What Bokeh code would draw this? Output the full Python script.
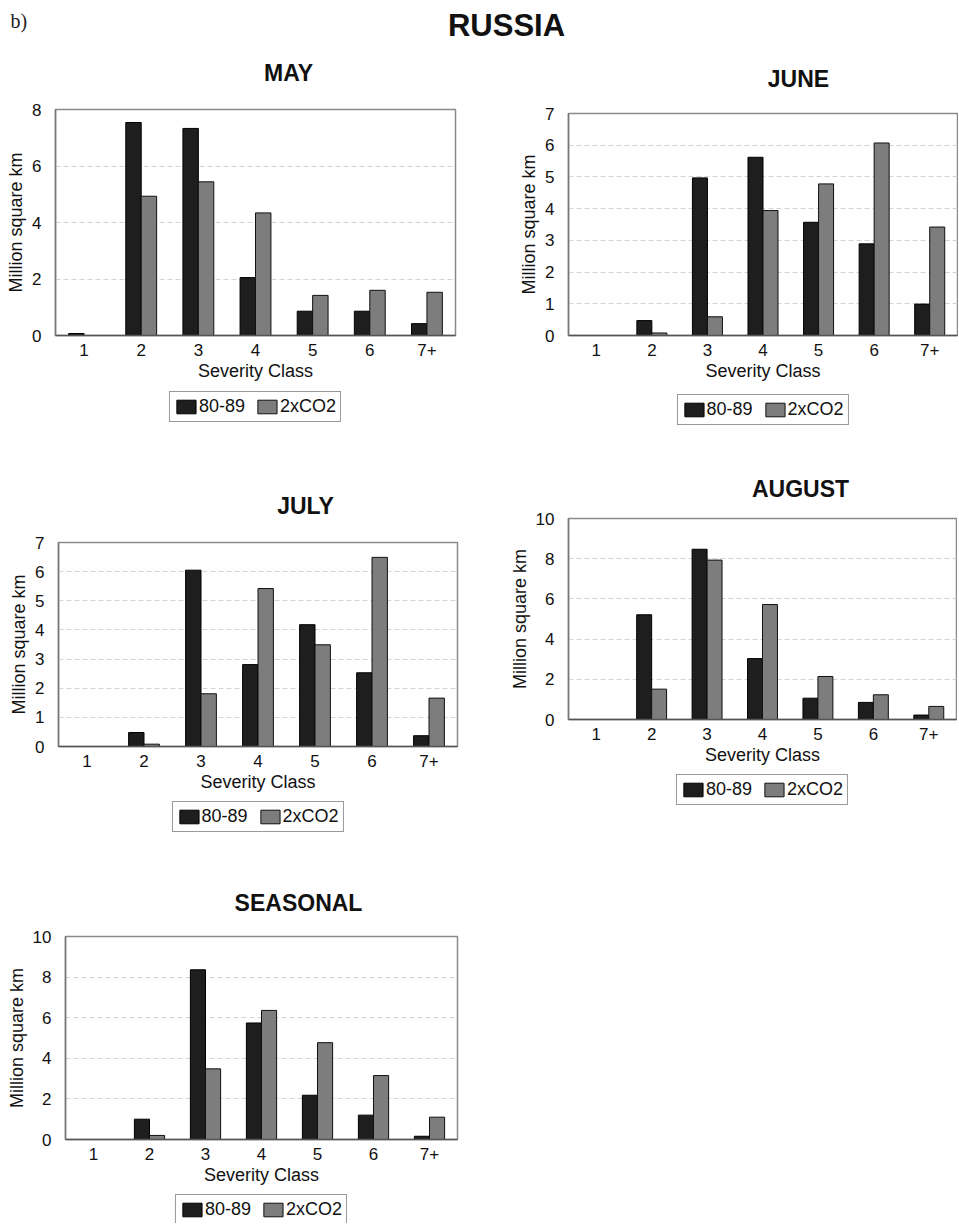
from bokeh.plotting import figure
from bokeh.layouts import column, row
from bokeh.models import Legend, LegendItem, Label, FixedTicker, Range1d
from bokeh.transform import dodge
from bokeh.embed import file_html
from bokeh.resources import INLINE

categories = ["1", "2", "3", "4", "5", "6", "7+"]
series_names = ["80-89", "2xCO2"]

may_8089 = [0.07, 7.54, 7.33, 2.05, 0.86, 0.86, 0.42]
may_2xco2 = [0.0, 4.93, 5.44, 4.34, 1.42, 1.60, 1.53]
june_8089 = [0.0, 0.47, 4.97, 5.62, 3.57, 2.89, 0.99]
june_2xco2 = [0.0, 0.08, 0.59, 3.94, 4.78, 6.07, 3.42]
july_8089 = [0.0, 0.48, 6.05, 2.81, 4.18, 2.53, 0.37]
july_2xco2 = [0.0, 0.08, 1.81, 5.42, 3.49, 6.49, 1.66]
aug_8089 = [0.0, 5.21, 8.47, 3.03, 1.06, 0.85, 0.22]
aug_2xco2 = [0.0, 1.51, 7.93, 5.72, 2.14, 1.23, 0.65]
seas_8089 = [0.0, 1.00, 8.36, 5.74, 2.18, 1.20, 0.16]
seas_2xco2 = [0.0, 0.20, 3.48, 6.36, 4.77, 3.15, 1.10]

may_ticks = [0, 2, 4, 6, 8]
june_ticks = [0, 1, 2, 3, 4, 5, 6, 7]
july_ticks = [0, 1, 2, 3, 4, 5, 6, 7]
aug_ticks = [0, 2, 4, 6, 8, 10]
seas_ticks = [0, 2, 4, 6, 8, 10]

DARK = "#1e1e1e"
GREY = "#7d7d7d"
FONT = "Liberation Sans"
NAN = float("nan")


def blank(width, height, **kw):
    f = figure(width=width, height=height, x_range=Range1d(0, 1), y_range=Range1d(0, 1),
               output_backend="svg", toolbar_location=None, tools="", **kw)
    f.xaxis.visible = False
    f.yaxis.visible = False
    f.grid.grid_line_color = None
    f.outline_line_color = None
    f.background_fill_color = None
    f.border_fill_color = None
    return f


def panel(title, s1, s2, ticks, L, fw, R, fh, title_h, title_x, title_y, B, leg_h, leg_top):
    width = L + fw + R
    # title strip
    tf = blank(width, title_h, min_border=0)
    tf.add_layout(Label(x=title_x, y=title_y, x_units="screen", y_units="screen", text=title,
                        text_font=FONT, text_font_style="bold", text_font_size="23px",
                        text_align="center", text_baseline="middle", text_color="#111111"))

    p = figure(x_range=categories, y_range=Range1d(0, ticks[-1]),
               frame_width=fw, frame_height=fh,
               min_border_left=L, min_border_right=R, min_border_top=10, min_border_bottom=B,
               output_backend="svg", toolbar_location=None, tools="")
    data = dict(cat=categories, a=s1, b=s2)
    p.vbar(x=dodge("cat", -0.135, range=p.x_range), top="a", width=0.27, source=data,
           fill_color=DARK, line_color="#000000", line_width=1)
    p.vbar(x=dodge("cat", 0.135, range=p.x_range), top="b", width=0.27, source=data,
           fill_color=GREY, line_color="#111111", line_width=1)

    p.outline_line_color = "#8a8a8a"
    p.outline_line_width = 1.5
    p.background_fill_color = "white"
    p.border_fill_color = "white"

    p.xgrid.grid_line_color = None
    p.ygrid.grid_line_color = "#d4d4d4"
    p.ygrid.grid_line_dash = "5 3"
    p.ygrid.grid_line_width = 1

    p.yaxis.ticker = FixedTicker(ticks=ticks)
    p.yaxis.axis_label = "Million square km"
    p.yaxis.axis_label_text_font = FONT
    p.yaxis.axis_label_text_font_style = "normal"
    p.yaxis.axis_label_text_font_size = "18px"
    p.yaxis.axis_label_text_color = "#111111"
    p.yaxis.axis_label_standoff = 3
    p.yaxis.major_label_text_font = FONT
    p.yaxis.major_label_text_font_size = "17px"
    p.yaxis.major_label_text_color = "#111111"
    p.yaxis.major_label_standoff = 14
    p.yaxis.major_tick_out = 0
    p.yaxis.major_tick_in = 0
    p.yaxis.minor_tick_out = 0
    p.yaxis.minor_tick_in = 0
    p.yaxis.axis_line_color = "#777777"
    p.yaxis.axis_line_width = 1.5

    p.xaxis.axis_label = "Severity Class"
    p.xaxis.axis_label_text_font = FONT
    p.xaxis.axis_label_text_font_style = "normal"
    p.xaxis.axis_label_text_font_size = "18px"
    p.xaxis.axis_label_text_color = "#111111"
    p.xaxis.axis_label_standoff = 2
    p.xaxis.major_label_text_font = FONT
    p.xaxis.major_label_text_font_size = "17px"
    p.xaxis.major_label_text_color = "#111111"
    p.xaxis.major_label_standoff = 8
    p.xaxis.major_tick_out = 0
    p.xaxis.major_tick_in = 0
    p.xaxis.axis_line_color = "#555555"
    p.xaxis.axis_line_width = 1.5

    # legend strip, frame aligned with the chart frame
    lf = figure(x_range=Range1d(0, 1), y_range=Range1d(0, 1), frame_width=fw, frame_height=leg_h,
                min_border_left=L, min_border_right=R, min_border_top=0, min_border_bottom=0,
                output_backend="svg", toolbar_location=None, tools="")
    lf.xaxis.visible = False
    lf.yaxis.visible = False
    lf.grid.grid_line_color = None
    lf.outline_line_color = None
    d1 = lf.vbar(x=[NAN], top=[NAN], width=0.1, fill_color=DARK, line_color="#000000", line_width=1)
    d2 = lf.vbar(x=[NAN], top=[NAN], width=0.1, fill_color=GREY, line_color="#111111", line_width=1)
    legend = Legend(items=[LegendItem(label=series_names[0], renderers=[d1]),
                           LegendItem(label=series_names[1], renderers=[d2])],
                    orientation="horizontal", location="top_center")
    legend.label_text_font = FONT
    legend.label_text_font_size = "18px"
    legend.label_text_color = "#111111"
    legend.glyph_width = 24
    legend.glyph_height = 17
    legend.label_standoff = 1
    legend.spacing = 10
    legend.padding = 4
    legend.margin = leg_top
    legend.border_line_color = "#333333"
    legend.border_line_width = 1.5
    legend.background_fill_color = "white"
    lf.add_layout(legend, "center")
    return column(tf, p, lf)


header = blank(958, 50, min_border=0)
header.add_layout(Label(x=10, y=30, x_units="screen", y_units="screen", text="b)",
                        text_font="Liberation Serif", text_font_size="20px",
                        text_baseline="middle", text_color="#222222"))
header.add_layout(Label(x=506, y=25, x_units="screen", y_units="screen", text="RUSSIA",
                        text_font=FONT, text_font_style="bold", text_font_size="31px",
                        text_align="center", text_baseline="middle", text_color="#111111"))

may = panel("MAY", may_8089, may_2xco2, may_ticks, 55, 400, 50, 226, 49, 233, 27, 50, 55, 6)
june = panel("JUNE", june_8089, june_2xco2, june_ticks, 63, 389, 1, 222, 53, 230, 25, 50, 55, 9)
july = panel("JULY", july_8089, july_2xco2, july_ticks, 58, 399, 48, 204, 92, 247, 27, 50, 54, 5)
aug = panel("AUGUST", aug_8089, aug_2xco2, aug_ticks, 63, 388, 1, 201, 68, 232, 20, 50, 81, 5)
seas = panel("SEASONAL", seas_8089, seas_2xco2, seas_ticks, 65, 392, 10, 203, 76, 233, 24, 48, 36, 7)

layout = column(header, row(may, june), row(july, aug), row(seas))

open("out.html", "w").write(file_html(layout, INLINE))
